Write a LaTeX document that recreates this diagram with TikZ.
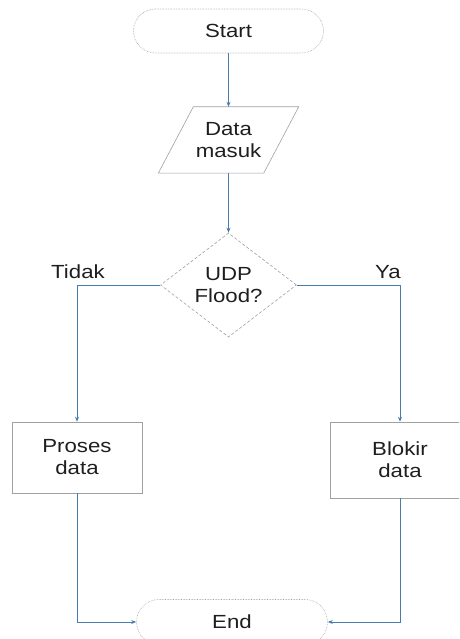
\documentclass[tikz,border=0pt]{standalone}
\usepackage{fontspec}
\newfontfamily\flowfont[FakeStretch=1.17]{Liberation Sans}
\usepackage{xcolor}
\usetikzlibrary{shapes.geometric, shapes.misc, arrows.meta, calc}

\definecolor{linkblue}{RGB}{72,124,176}
\definecolor{edgegray}{RGB}{160,160,160}
\definecolor{inkgray}{RGB}{30,30,30}

\tikzset{
  every node/.style={font=\flowfont\fontsize{19}{22}\selectfont, text=inkgray, align=center},
  terminal/.style={rounded rectangle, draw=edgegray, densely dotted, line width=0.6pt,
    minimum width=190pt, minimum height=44pt, inner sep=0pt},
  databox/.style={minimum width=70pt, minimum height=66pt, inner sep=0pt},
  decision/.style={diamond, draw=edgegray, dash pattern=on 3pt off 2pt, line width=0.6pt,
    minimum width=136pt, minimum height=104pt, inner sep=0pt},
  process/.style={rectangle, draw=edgegray, line width=0.6pt, inner sep=0pt},
  flow/.style={draw=linkblue, line width=0.8pt, -{Stealth[length=5pt,width=4pt]}}
}

\begin{document}
\begin{tikzpicture}[x=1pt, y=-1pt]
    \useasboundingbox (0,0) rectangle (459,639);
    \clip (0,0) rectangle (459,639);

    % shapes
    \node[terminal] (start) at (228.5,31) {Start};
    \node[databox] (datain) at (228.5,140) {Data\\masuk};
    \draw[edgegray, line width=0.6pt] ($(datain.south west)+(-35,0)$) -- (datain.north west)
        -- ($(datain.north east)+(35,0)$) -- (datain.south east) -- cycle;
    \node[decision] (udp) at (228.5,285) {UDP\\Flood?};
    \node[process, minimum width=130pt, minimum height=71pt] (proses) at (77,457.5) {Proses\\data};
    \node[process, minimum width=140pt, minimum height=76pt] (blokir) at (400,460) {Blokir\\data};
    \node[terminal, minimum width=191pt, minimum height=45pt] (finish) at (232,622) {End};

    % labels
    \node (tidak) at (78,272) {Tidak};
    \node (ya) at (388,272) {Ya};

    % connectors
    \draw[flow] (start.south) -- (datain.north);
    \draw[flow] (datain.south) -- (udp.north);
    \draw[flow] (udp.west) -| (proses.north);
    \draw[flow] (udp.east) -| (blokir.north);
    \draw[flow] (proses.south) |- (finish.west);
    \draw[flow] (blokir.south) |- (finish.east);
\end{tikzpicture}
\end{document}
